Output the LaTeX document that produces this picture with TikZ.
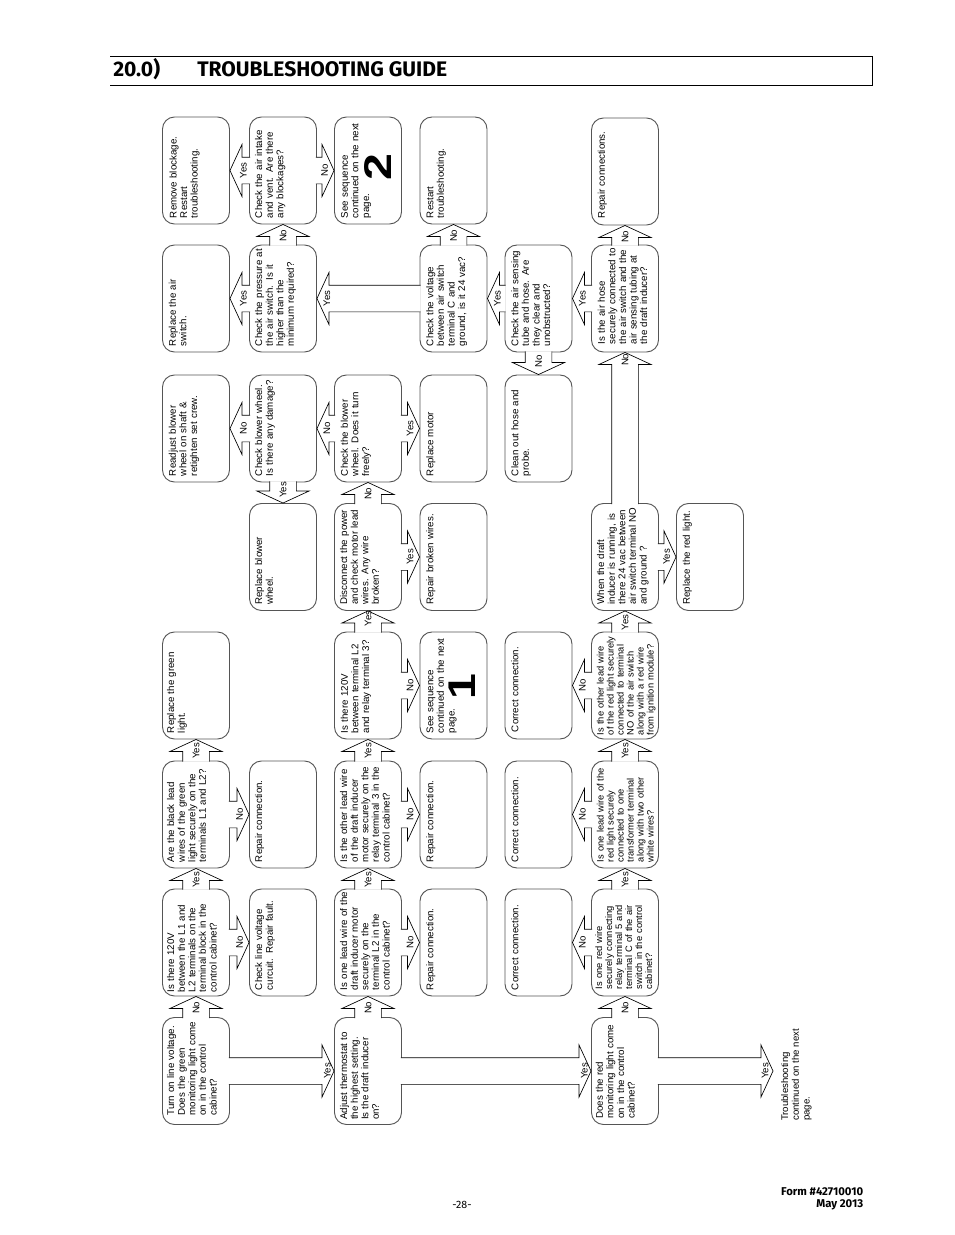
\documentclass[tikz,border=0pt]{standalone}
\usepackage{fontspec}
\usepackage{graphicx}
\setmainfont{Liberation Sans}
\newfontfamily\headfont{Fira Sans}
\usetikzlibrary{calc}
\definecolor{boxgray}{RGB}{85, 85, 85}
\tikzset{
    startgap/.style={execute at begin node={\leftskip=#1}},
    topgap/.style={text height=#1,text depth=50.25pt-#1},
    qbox/.style={draw=boxgray,line width=0.7pt,rounded corners=9pt,rotate=90,minimum width=80.25pt,minimum height=50.25pt,
        inner xsep=2pt,inner ysep=0pt,text width=76.25pt,align=left,topgap=9.5pt,startgap=2.5pt,
        font=\fontsize{7.3}{7.95}\selectfont},
    tightbox/.style={font=\fontsize{7}{7.5}\selectfont},
    arrowlabel/.style={rotate=90,inner sep=0pt,font=\fontsize{7.2}{8}\selectfont},
    digit/.style={rotate=90,inner sep=0pt,font=\fontsize{29}{29}\selectfont\bfseries},
    blockarrow/.style={draw=black,line width=0.5pt,fill=white,to path={
        let \p1=($(\tikztotarget)-(\tikztostart)$), \n1={atan2(\y1,\x1)} in
        ($(\tikztostart)+(\n1:-0.9pt)+(\n1+90:10pt)$) -- ($(\tikztotarget)+(\n1:-9pt)+(\n1+90:10pt)$)
        -- ($(\tikztotarget)+(\n1:-9pt)+(\n1+90:19.5pt)$) -- (\tikztotarget)
        -- ($(\tikztotarget)+(\n1:-9pt)+(\n1-90:19.5pt)$) -- ($(\tikztotarget)+(\n1:-9pt)+(\n1-90:10pt)$)
        -- ($(\tikztostart)+(\n1:-0.9pt)+(\n1-90:10pt)$)}}
}
\begin{document}
\begin{tikzpicture}[x=0.75pt,y=-0.75pt]
    \useasboundingbox (0,0) rectangle (954,1235);
    % header
    \draw[line width=0.7pt] (110,56) -- (872,56) -- (872,85.5) -- (110,85.5);
    \node[anchor=west,inner sep=0pt,font=\headfont\fontsize{15.8}{16}\selectfont\bfseries] (secnum) at (113,69.5) {20.0)};
    \node[anchor=west,inner sep=0pt,font=\headfont\fontsize{15.8}{16}\selectfont\bfseries] (title) at (197,69.5) {TROUBLESHOOTING GUIDE};
    % first column
    \node[qbox,topgap=10.5pt] (a1) at (196,170.5) {Remove blockage.\\Restart\\troubleshooting.};
    \node[qbox,topgap=10pt] (a2) at (196,298.5) {Replace the air\\switch.};
    \node[qbox,topgap=10pt] (a3) at (196,428.5) {Readjust blower\\wheel on shaft \&\\retighten set crew.};
    \node[qbox,topgap=8.75pt] (a5) at (196,685.5) {Replace the green\\light.};
    \node[qbox,topgap=8.75pt] (a6) at (196,814.5) {Are the black lead\\wires of the green\\light securely on the\\terminals L1 and L2?};
    \node[qbox,topgap=8.75pt,startgap=1pt] (a7) at (196,942.5) {Is there 120V\\between the L1 and\\L2 terminals on the\\terminal block in the\\control cabinet?};
    \node[qbox,topgap=8.75pt,startgap=4.75pt] (a8) at (196,1071) {Turn on line voltage.\\Does the green\\monitoring light come\\on in the control\\cabinet?};
    % second column
    \node[qbox] (b1) at (283,170.5) {Check the air intake\\and vent. Are there\\any blockages?};
    \node[qbox] (b2) at (283,298.5) {Check the pressure at\\the air switch. Is it\\higher than the\\minimum required?};
    \node[qbox] (b3) at (283,428.5) {Check blower wheel.\\Is there any damage?};
    \node[qbox] (b4) at (283,557) {Replace blower\\wheel.};
    \node[qbox] (b6) at (283,814.5) {Repair connection.};
    \node[qbox] (b7) at (283,942.5) {Check line voltage\\curcuit. Repair fault.};
    % third column
    \node[qbox,topgap=10pt] (c1) at (368,170.5) {See sequence\\continued on the next\\page.};
    \node[qbox,topgap=10pt] (c3) at (368,428.5) {Check the blower\\wheel. Does it turn\\freely?};
    \node[qbox] (c4) at (368,557) {Disconnect the power\\and check motor lead\\wires. Any wire\\broken?};
    \node[qbox,topgap=10pt] (c5) at (368,685.5) {Is there 120V\\between terminal L2\\and relay terminal 3?};
    \node[qbox] (c6) at (368,814.5) {Is the other lead wire\\of the draft inducer\\motor securely on the\\relay terminal 3 in the\\control cabinet?};
    \node[qbox] (c7) at (368,942.5) {Is one lead wire of the\\draft inducer motor\\securely on the\\terminal L2 in the\\control cabinet?};
    \node[qbox,startgap=1.5pt] (c8) at (368,1071) {Adjust thermostat to\\the highest setting.\\Is the draft inducer\\on?};
    % fourth column
    \node[qbox,topgap=10pt] (d1) at (453.5,170.5) {Restart\\troubleshooting.};
    \node[qbox,topgap=10pt] (d2) at (453.5,298.5) {Check the voltage\\between air switch\\terminal C and\\ground, is it 24 vac?};
    \node[qbox,topgap=10pt] (d3) at (453.5,428.5) {Replace motor};
    \node[qbox,topgap=10pt] (d4) at (453.5,557) {Repair broken wires.};
    \node[qbox,topgap=10pt] (d5) at (453.5,685.5) {See sequence\\continued on the next\\page.};
    \node[qbox,topgap=10pt] (d6) at (453.5,814.5) {Repair connection.};
    \node[qbox,topgap=10pt] (d7) at (453.5,942.5) {Repair connection.};
    % fifth column
    \node[qbox,topgap=10pt] (e2) at (538.5,298.5) {Check the air sensing\\tube and hose. Are\\they clear and\\unobstructed?};
    \node[qbox,topgap=10pt] (e3) at (538.5,428.5) {Clean out hose and\\probe.};
    \node[qbox,topgap=10pt,startgap=3.25pt] (e5) at (538.5,685.5) {Correct connection.};
    \node[qbox,topgap=10pt] (e6) at (538.5,814.5) {Correct connection.};
    \node[qbox,topgap=10pt] (e7) at (538.5,942.5) {Correct connection.};
    % sixth column
    \node[qbox,topgap=10pt,startgap=3.25pt] (f1) at (625,171.5) {Repair connections.};
    \node[qbox,topgap=10pt,startgap=4pt] (f2) at (625,298.5) {Is the air hose\\securely connected to\\the air switch and the\\air sensing tubing at\\the draft inducer?};
    \node[qbox] (f4) at (625,557) {When the draft\\inducer is running, is\\there 24 vac between\\air switch terminal NO\\and ground ?};
    \node[qbox,tightbox,topgap=9pt,startgap=1pt] (f5) at (625,685.5) {Is the other lead wire\\of the red light securely\\connected to terminal\\NO of the air switch\\along with a red wire\\from ignition module?};
    \node[qbox,tightbox,topgap=9pt] (f6) at (625,814.5) {Is one lead wire of the\\red light securely\\connected to one\\transformer terminal\\along with two other\\white wires?};
    \node[qbox,tightbox,topgap=8pt,startgap=3.25pt] (f7) at (625,942.5) {Is one red wire\\securely connecting\\relay terminal 5 and\\terminal C of the air\\switch in the control\\cabinet?};
    \node[qbox,topgap=8.5pt] (f8) at (625,1071) {Does the red\\monitoring light come\\on in the control\\cabinet?};
    % last column
    \node[qbox,topgap=10pt] (g4) at (710,557) {Replace the red light.};
    \node[arrowlabel,anchor=north west,align=left] (endnote) at (781,1121) {Troubleshooting\\continued on the next\\page.};
    \coordinate (endtip) at (773,1071);
    % big sequence numbers
    \node[digit] (two) at (378,167) {\scalebox{1.25}[1]{2}};
    \node[digit] (one) at (462,687) {\scalebox{1.2}[1]{1}};
    % arrows to the left
    \foreach \a/\b/\t in {b1/a1/Yes,b2/a2/Yes,b3/a3/No} {
        \draw[blockarrow] (\a.north) to (\b.south);
        \node[arrowlabel] (\a\b) at ($(\b.south)!10pt!(\a.north)$) {\t};
    }
    \foreach \a/\b/\t in {c3/b3/No,d2/b2/Yes,e2/d2/Yes,f2/e2/Yes,f5/e5/No,f6/e6/No,f7/e7/No} {
        \draw[blockarrow] (\a.north) to (\b.south);
        \node[arrowlabel] (\a\b) at ($(\b.south)!7.5pt!(\a.north)$) {\t};
    }
    % arrows to the right
    \foreach \a/\b/\t in {b1/c1/No,a6/b6/No,a7/b7/No,c3/d3/Yes,c4/d4/Yes,c5/d5/No,c6/d6/No,c7/d7/No,f4/g4/Yes} {
        \draw[blockarrow] (\a.south) to (\b.north);
        \node[arrowlabel] (\a\b) at ($(\b.north)!7pt!(\a.south)$) {\t};
    }
    \foreach \a/\b/\t in {a8/c8/Yes,c8/f8/Yes} {
        \draw[blockarrow] (\a.south) to (\b.north);
        \node[arrowlabel] (\a\b) at ($(\b.north)!5pt!(\a.south)$) {\t};
    }
    \draw[blockarrow] (f8.south) to (endtip);
    \node[arrowlabel] (f8end) at ($(endtip)!6pt!(f8.south)$) {Yes};
    % arrows upward
    \foreach \a/\b/\t in {b2/b1/No,d2/d1/No,f2/f1/No,a8/a7/No,a7/a6/Yes,a6/a5/Yes,c8/c7/No,c7/c6/Yes,c6/c5/Yes,c4/c3/No,f8/f7/No,f7/f6/Yes,f6/f5/Yes,f5/f4/Yes} {
        \draw[blockarrow] (\a.east) to (\b.west);
        \node[arrowlabel] (\a\b) at ($(\b.west)!8.5pt!(\a.east)$) {\t};
    }
    \foreach \a/\b/\t in {f4/f2/No,c5/c4/Yes} {
        \draw[blockarrow] (\a.east) to (\b.west);
        \node[arrowlabel] (\a\b) at ($(\b.west)!5.5pt!(\a.east)$) {\t};
    }
    % arrows downward
    \foreach \a/\b/\t in {b3/b4/Yes,e2/e3/No} {
        \draw[blockarrow] (\a.west) to (\b.east);
        \node[arrowlabel] (\a\b) at ($(\b.east)!10pt!(\a.west)$) {\t};
    }
    % footer
    \node[anchor=east,inner sep=0pt,font=\headfont\fontsize{8.5}{9}\selectfont\bfseries] (form) at (863.5,1192) {Form \#42710010};
    \node[anchor=east,inner sep=0pt,font=\headfont\fontsize{8.5}{9}\selectfont\bfseries] (date) at (863.5,1204.5) {May 2013};
    \node[inner sep=0pt,font=\headfont\fontsize{8}{9}\selectfont] (pagenum) at (462,1205) {-28-};
\end{tikzpicture}
\end{document}
